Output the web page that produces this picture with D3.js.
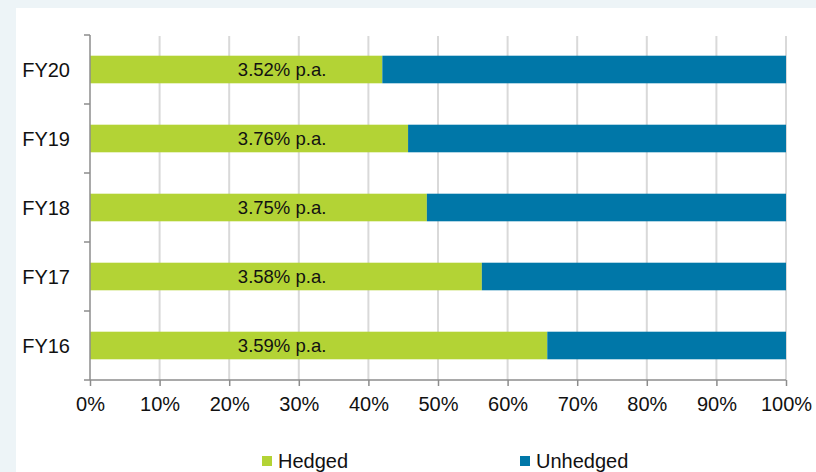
<!DOCTYPE html>
<html>
<head>
<meta charset="utf-8">
<script src="https://cdn.jsdelivr.net/npm/d3@7"></script>
<style>
  html, body { margin: 0; padding: 0; background: #edf4f7; }
  svg { display: block; }
  text { font-family: "Liberation Sans", Arial, sans-serif; fill: #111; }
</style>
</head>
<body>
<svg id="chart" width="816" height="472"></svg>
<script>
// Share of debt hedged vs unhedged by financial year (percent)
const years = ["FY16", "FY17", "FY18", "FY19", "FY20"];
const hedged = [65.7, 56.3, 48.4, 45.7, 42.0];
const unhedged = hedged.map(h => 100 - h);
const rateLabels = ["3.59% p.a.", "3.58% p.a.", "3.75% p.a.", "3.76% p.a.", "3.52% p.a."];
const xTicks = [0, 10, 20, 30, 40, 50, 60, 70, 80, 90, 100];
const seriesNames = ["Hedged", "Unhedged"];
const seriesColors = ["#b3d335", "#0077a8"];

const svg = d3.select("#chart");

// white panel
svg.append("rect").attr("x", 16).attr("y", 8).attr("width", 800).attr("height", 464).attr("fill", "#ffffff");

const x = d3.scaleLinear().domain([0, 100]).range([90, 786]);
const y = d3.scaleBand().domain(years.slice().reverse()).range([35, 380]).paddingInner(0.6).paddingOuter(0.3);
const yOuter = d3.scaleBand().domain(years.slice().reverse()).range([35, 380]);

// gridlines
svg.append("g").selectAll("line").data(xTicks.filter(t => t > 0)).join("line")
  .attr("x1", d => x(d)).attr("x2", d => x(d))
  .attr("y1", 36).attr("y2", 380)
  .attr("stroke", "#d9d9d9").attr("stroke-width", 2);

// stacked bars
const rows = years.map((yr, i) => ({ yr, hedged: hedged[i], unhedged: unhedged[i], label: rateLabels[i] }));
const stack = d3.stack().keys(["hedged", "unhedged"])(rows);
const gBars = svg.append("g");
stack.forEach((layer, li) => {
  gBars.append("g").attr("fill", seriesColors[li])
    .selectAll("rect").data(layer).join("rect")
    .attr("x", d => x(d[0]))
    .attr("width", d => x(d[1]) - x(d[0]))
    .attr("y", d => y(d.data.yr))
    .attr("height", y.bandwidth());
});

// interest rate labels
svg.append("g").selectAll("text").data(rows).join("text")
  .attr("x", x(27.6))
  .attr("y", d => y(d.yr) + y.bandwidth() / 2)
  .attr("dy", "0.35em")
  .attr("text-anchor", "middle")
  .style("font-size", "18.5px")
  .text(d => d.label);

// bottom axis
const xAxis = svg.append("g").attr("transform", "translate(0,380)")
  .call(d3.axisBottom(x).tickValues(xTicks).tickFormat(d => d + "%").tickSizeOuter(0).tickSize(6).tickPadding(11));
xAxis.select(".domain").attr("d", "M84,0H786").attr("stroke", "#8c8c8c").attr("stroke-width", 1.5);
xAxis.selectAll(".tick line").attr("stroke", "#8c8c8c").attr("stroke-width", 1.5);
xAxis.selectAll(".tick text").style("font-size", "20px").style("font-family", "Liberation Sans, Arial, sans-serif").attr("fill", "#111");

// left axis with ticks on band boundaries
const gy = svg.append("g");
gy.append("line").attr("x1", 90).attr("x2", 90).attr("y1", 35).attr("y2", 380)
  .attr("stroke", "#8c8c8c").attr("stroke-width", 1.5);
const bounds = years.slice().reverse().map(d => yOuter(d));
gy.selectAll("line.tk").data(bounds).join("line").attr("class", "tk")
  .attr("x1", 84).attr("x2", 90).attr("y1", d => d).attr("y2", d => d)
  .attr("stroke", "#8c8c8c").attr("stroke-width", 1.5);
gy.selectAll("text").data(years).join("text")
  .attr("x", 70)
  .attr("y", d => y(d) + y.bandwidth() / 2)
  .attr("dy", "0.35em")
  .attr("text-anchor", "end")
  .style("font-size", "20px")
  .text(d => d);

// legend
const legendX = [262, 520];
const lg = svg.append("g").selectAll("g").data(seriesNames).join("g")
  .attr("transform", (d, i) => `translate(${legendX[i]},456)`);
lg.append("rect").attr("width", 10).attr("height", 10).attr("fill", (d, i) => seriesColors[i]);
lg.append("text").attr("x", 16).attr("y", 5).attr("dy", "0.35em").style("font-size", "20px").text(d => d);
</script>
</body>
</html>
